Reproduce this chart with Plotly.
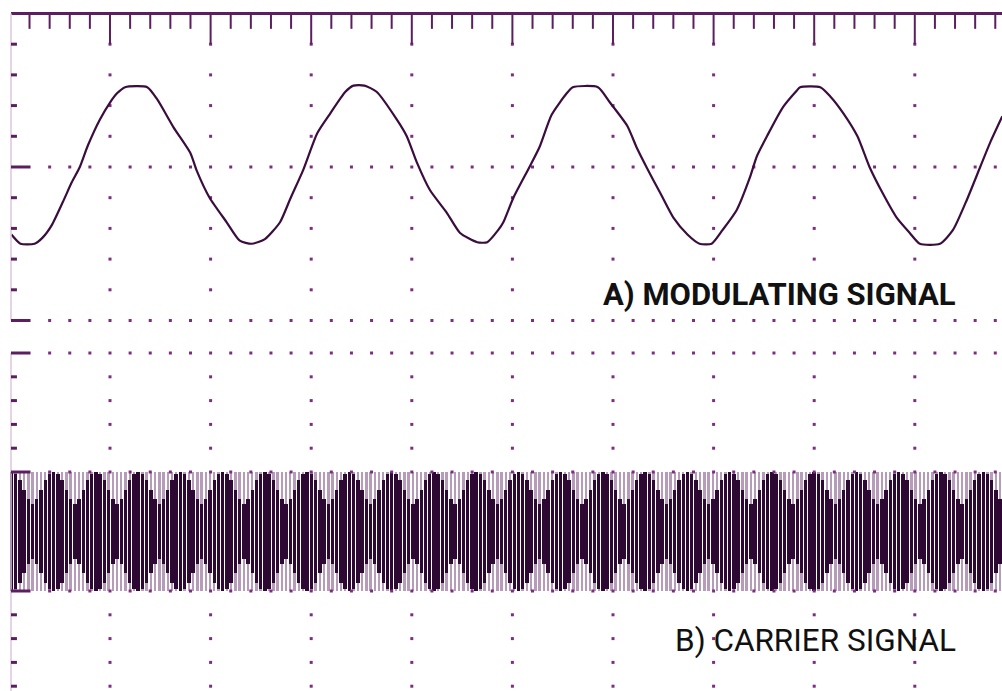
import numpy as np
import plotly.graph_objects as go

# ---------------- data (time in divisions, amplitude in divisions) ----------------
mod_t = [0.02, 0.11, 0.25, 0.33, 0.42, 0.53, 0.62, 0.70, 0.78, 0.90,
         1.00, 1.07, 1.15, 1.37, 1.47, 1.63, 1.80, 1.86, 1.99, 2.16,
         2.29, 2.41, 2.54, 2.69, 2.79, 2.92, 3.06, 3.19, 3.34, 3.42,
         3.53, 3.65, 3.85, 3.95, 4.05, 4.18, 4.35, 4.48, 4.65, 4.75,
         4.86, 4.91, 5.01, 5.17, 5.27, 5.39, 5.54, 5.60, 5.85, 5.97,
         6.14, 6.24, 6.34, 6.47, 6.60, 6.74, 6.86, 6.98, 7.09, 7.23,
         7.36, 7.43, 7.53, 7.69, 7.83, 7.86, 8.06, 8.16, 8.29, 8.43,
         8.55, 8.68, 8.82, 8.95, 9.05, 9.25, 9.38, 9.52, 9.65, 9.75,
         9.87]
mod_v = [-0.44, -0.50, -0.50, -0.46, -0.38, -0.23, -0.10, 0.00, 0.14, 0.31,
         0.42, 0.48, 0.52, 0.52, 0.44, 0.26, 0.09, -0.02, -0.20, -0.36,
         -0.48, -0.50, -0.47, -0.36, -0.21, -0.02, 0.22, 0.35, 0.49, 0.53,
         0.53, 0.49, 0.31, 0.20, 0.03, -0.15, -0.30, -0.43, -0.49, -0.49,
         -0.41, -0.36, -0.20, 0.00, 0.13, 0.34, 0.48, 0.52, 0.52, 0.42,
         0.27, 0.12, -0.01, -0.17, -0.33, -0.44, -0.50, -0.50, -0.41, -0.28,
         -0.07, 0.07, 0.20, 0.39, 0.50, 0.52, 0.52, 0.46, 0.35, 0.20,
         0.00, -0.17, -0.33, -0.43, -0.50, -0.50, -0.41, -0.21, 0.00, 0.16,
         0.33]

# carrier: constant amplitude, displayed with an aliasing (beat) envelope
carrier_amplitude = 0.5
carrier_beat_envelope = [1.00, 0.97, 0.86, 0.70, 0.54, 0.46, 0.54, 0.70, 0.86, 0.97]
carrier_start, carrier_end, carrier_step = 0.02, 9.87, 0.042

label_a = "A) MODULATING SIGNAL"
label_b = "B) CARRIER SIGNAL"

# ---------------- styling ----------------
C_TRACE = "#3a0d3e"
C_DARK = "#2c0832"
C_LIGHT = "#b69cb8"
C_GRID = "#7e2c82"
C_FRAME = "#5b1f5f"
C_EDGE = "#dcc6dc"

car_t = np.arange(carrier_start, carrier_end + 1e-9, carrier_step)
n = len(car_t)
env = np.resize(np.array(carrier_beat_envelope), n) * carrier_amplitude

fig = go.Figure()

# ---- graticule dots (top panel, axis y) ----
hx = np.round(np.arange(0.4, 9.9, 0.2), 3)
top_dots_x, top_dots_y = [], []
for yy in (0.0, -1.0):
    top_dots_x += list(hx); top_dots_y += [yy] * len(hx)
vy_top = [0.8, 0.6, 0.4, 0.2, -0.2, -0.4, -0.6, -0.8]
for xx in range(1, 10):
    top_dots_x += [xx] * len(vy_top); top_dots_y += vy_top
fig.add_trace(go.Scatter(x=top_dots_x, y=top_dots_y, mode="markers",
                         marker=dict(symbol="square", size=3, color=C_GRID),
                         xaxis="x", yaxis="y", hoverinfo="skip", showlegend=False))

# ---- graticule dots (bottom panel, axis y2) ----
bot_dots_x, bot_dots_y = [], []
for yy in (1.5, 0.5, -0.5):
    bot_dots_x += list(hx); bot_dots_y += [yy] * len(hx)
vy_bot = [1.3, 1.1, 0.9, 0.7, -0.7, -0.9, -1.1, -1.3]
for xx in range(1, 10):
    bot_dots_x += [xx] * len(vy_bot); bot_dots_y += vy_bot
fig.add_trace(go.Scatter(x=bot_dots_x, y=bot_dots_y, mode="markers",
                         marker=dict(symbol="square", size=3, color=C_GRID),
                         xaxis="x2", yaxis="y2", hoverinfo="skip", showlegend=False))

# ---- modulating signal ----
fig.add_trace(go.Scatter(x=mod_t, y=mod_v, mode="lines",
                         line=dict(color=C_TRACE, width=2.2, shape="spline", smoothing=0.6),
                         xaxis="x", yaxis="y", hoverinfo="skip", showlegend=False))

# ---- carrier signal (light full-amplitude strokes + dark beat pattern) ----
fig.add_trace(go.Bar(x=car_t, y=[2 * carrier_amplitude] * n, base=[-carrier_amplitude] * n,
                     width=0.024, marker=dict(color=C_LIGHT, line=dict(width=0)),
                     xaxis="x2", yaxis="y2", hoverinfo="skip", showlegend=False))
fig.add_trace(go.Bar(x=car_t, y=2 * env, base=-env,
                     width=0.034, marker=dict(color=C_DARK, line=dict(width=0)),
                     xaxis="x2", yaxis="y2", hoverinfo="skip", showlegend=False))

# ---- frame / ticks as shapes ----
shapes = []
shapes.append(dict(type="line", xref="x", yref="y", x0=0.016, x1=9.95, y0=1.0, y1=1.0,
                   line=dict(color=C_FRAME, width=3)))
for k in range(1, 50):
    xx = k * 0.2
    major = (k % 5 == 0)
    shapes.append(dict(type="line", xref="x", yref="y", x0=xx, x1=xx, y0=1.0,
                       y1=0.80 if major else 0.90,
                       line=dict(color=C_FRAME, width=2)))
shapes.append(dict(type="line", xref="x", yref="y", x0=0.016, x1=0.016, y0=1.0, y1=-1.0,
                   line=dict(color=C_EDGE, width=1.5)))
shapes.append(dict(type="line", xref="x2", yref="y2", x0=0.016, x1=0.016, y0=1.5, y1=-1.6,
                   line=dict(color=C_EDGE, width=1.5)))
for yy in vy_top:
    shapes.append(dict(type="line", xref="x", yref="y", x0=0.016, x1=0.075, y0=yy, y1=yy,
                       line=dict(color=C_FRAME, width=3)))
for yy in (0.0, -1.0):
    shapes.append(dict(type="line", xref="x", yref="y", x0=0.016, x1=0.21, y0=yy, y1=yy,
                       line=dict(color=C_FRAME, width=3)))
for yy in vy_bot:
    shapes.append(dict(type="line", xref="x2", yref="y2", x0=0.016, x1=0.075, y0=yy, y1=yy,
                       line=dict(color=C_FRAME, width=3)))
for yy in (1.5, 0.5, -0.5):
    shapes.append(dict(type="line", xref="x2", yref="y2", x0=0.016, x1=0.21, y0=yy, y1=yy,
                       line=dict(color=C_FRAME, width=3)))

FONT = "Roboto, Liberation Sans, DejaVu Sans, sans-serif"
annotations = [
    dict(text=label_a, xref="x", yref="y", x=9.43, y=-0.83, xanchor="right", yanchor="middle",
         align="right", showarrow=False,
         font=dict(family=FONT, size=31, color="#111111", weight="bold")),
    dict(text=label_b, xref="x2", yref="y2", x=9.43, y=-0.92, xanchor="right", yanchor="middle",
         align="right", showarrow=False,
         font=dict(family=FONT, size=31.5, color="#111111")),
]

split = 1 - 336 / 691
fig.update_layout(
    width=1002, height=691,
    margin=dict(l=0, r=0, t=0, b=0),
    paper_bgcolor="white", plot_bgcolor="white",
    barmode="overlay", bargap=0,
    showlegend=False,
    shapes=shapes,
    annotations=annotations,
    xaxis=dict(domain=[0, 1], range=[-0.0934, 9.8668], anchor="y", visible=False, fixedrange=True),
    xaxis2=dict(domain=[0, 1], range=[-0.0934, 9.8668], anchor="y2", matches="x", visible=False),
    yaxis=dict(domain=[split, 1], range=[-1.1010, 1.0879], visible=False),
    yaxis2=dict(domain=[0, split], range=[-1.3403, 1.6429], visible=False),
)

fig.write_html("out.html", config={"displayModeBar": False},
               post_script="document.body.style.margin='0';")
